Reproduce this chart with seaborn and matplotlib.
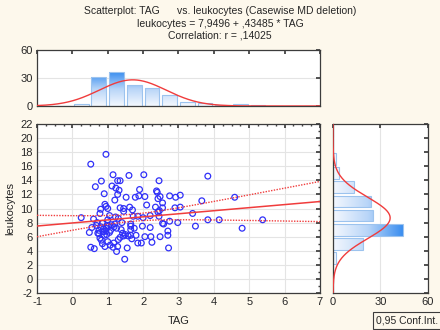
import numpy as np
import pandas as pd
import matplotlib
matplotlib.use("Agg")
import matplotlib.pyplot as plt
import seaborn as sns
from matplotlib.colors import LinearSegmentedColormap, Normalize
from matplotlib.ticker import AutoMinorLocator

# values (TAG, leukocytes)
tag = [0.52, 0.95, 0.25, 0.48, 0.52, 0.62, 0.60, 0.65, 0.70, 0.72,
       0.75, 0.78, 0.80, 0.82, 0.78, 0.82, 0.85, 0.85, 0.88, 0.90,
       0.92, 0.95, 0.95, 0.95, 0.92, 0.97, 1.00, 1.00, 1.02, 1.00,
       1.05, 1.05, 1.07, 1.10, 1.12, 1.15, 1.15, 1.17, 1.20, 1.20,
       1.22, 1.23, 1.25, 1.25, 1.28, 1.28, 1.30, 1.30, 1.32, 1.35,
       1.35, 1.35, 1.28, 1.40, 1.42, 1.45, 1.45, 1.45, 1.48, 1.50,
       1.52, 1.55, 1.58, 1.60, 1.62, 1.65, 1.65, 1.65, 1.65, 1.68,
       1.70, 1.72, 1.78, 1.80, 1.85, 1.85, 1.88, 1.90, 1.95, 1.98,
       2.00, 2.02, 2.05, 2.05, 2.10, 2.20, 2.20, 2.22, 2.25, 2.35,
       2.38, 2.40, 2.42, 2.42, 2.45, 2.45, 2.48, 2.48, 2.46, 2.55,
       2.55, 2.55, 2.58, 2.70, 2.70, 2.72, 2.75, 2.75, 2.90, 2.92,
       2.98, 3.05, 3.05, 3.40, 3.48, 3.66, 3.83, 3.83, 4.15, 4.59,
       4.80, 5.38,
       0.55, 0.68, 0.75, 0.80, 0.88, 0.90, 0.98, 1.08, 1.18, 1.38, 1.75]
leuk = [16.3, 17.7, 8.7, 6.6, 4.5, 4.3, 8.5, 13.1, 8.0, 6.5,
        6.4, 9.3, 9.9, 13.9, 5.8, 5.5, 5.0, 7.9, 6.7, 12.1,
        10.6, 10.3, 7.2, 6.8, 4.6, 6.3, 10.0, 8.4, 7.5, 5.3,
        9.0, 6.6, 4.8, 7.7, 13.2, 14.8, 4.5, 5.1, 11.2, 7.8,
        8.8, 12.9, 3.9, 7.2, 13.95, 12.0, 8.6, 5.6, 12.6, 13.95,
        10.1, 5.9, 4.6, 8.0, 6.5, 9.6, 10.0, 6.1, 2.8, 6.3,
        11.6, 4.4, 6.1, 14.7, 10.2, 7.8, 7.5, 7.0, 6.2, 5.7,
        9.8, 8.9, 11.6, 6.2, 5.1, 8.9, 11.8, 12.7, 5.1, 7.5,
        8.7, 14.8, 11.7, 6.0, 10.5, 7.3, 9.0, 6.0, 5.2, 10.2,
        12.5, 12.3, 9.5, 11.4, 8.9, 13.95, 6.0, 11.7, 9.7, 10.8,
        10.1, 7.9, 7.8, 6.8, 6.2, 4.4, 11.8, 8.2, 10.1, 11.6,
        8.0, 11.9, 10.2, 9.3, 7.5, 11.1, 14.6, 8.4, 8.4, 11.6,
        7.2, 8.4,
        7.3, 7.6, 6.9, 7.4, 7.1, 6.2, 7.6, 6.9, 7.4, 7.0, 7.2]

intercept = 7.9496
slope = 0.43485
r_value = 0.14025

df = pd.DataFrame({"TAG": tag, "leukocytes": leuk})

sns.set_theme(style="white")
plt.rcParams["font.family"] = ["Liberation Sans", "DejaVu Sans"]
plt.rcParams["axes.unicode_minus"] = False

bg = "#fdf8ec"
blue = "#3030f8"
red = "#f03c3c"
spine_col = "#3c3c3c"
grid_col = "#e4e4e4"

fig = plt.figure(figsize=(4.4, 3.3), dpi=100, facecolor=bg)
ax = fig.add_axes([0.0841, 0.1121, 0.643, 0.512])
ax_top = fig.add_axes([0.0841, 0.6788, 0.643, 0.1697])
ax_right = fig.add_axes([0.7568, 0.1121, 0.2159, 0.512])

# ---- main scatter ----
sns.scatterplot(data=df, x="TAG", y="leukocytes", ax=ax, marker="o", s=17,
                facecolor="none", edgecolor=blue, linewidth=0.9, zorder=3)
pts = ax.collections[-1]
pts.set_facecolor("none")
pts.set_edgecolor(blue)

x_arr = np.array(tag)
y_arr = np.array(leuk)
n = len(x_arr)
x_line = np.linspace(-1, 7, 200)
y_line = intercept + slope * x_line
resid = y_arr - (intercept + slope * x_arr)
s_err = np.sqrt(np.sum(resid ** 2) / (n - 2))
sxx = np.sum((x_arr - x_arr.mean()) ** 2)
half = 1.978 * s_err * np.sqrt(1 / n + (x_line - x_arr.mean()) ** 2 / sxx)

ax.plot(x_line, y_line, color=red, lw=1.1, zorder=4)
ax.plot(x_line, y_line + half, color=red, lw=1.0, ls=(0, (1.0, 1.0)), zorder=4)
ax.plot(x_line, y_line - half, color=red, lw=1.0, ls=(0, (1.0, 1.0)), zorder=4)

ax.set_xlim(-1, 7)
ax.set_ylim(-2, 22)
ax.set_xticks(range(-1, 8))
ax.set_yticks(range(-2, 23, 2))
ax.xaxis.set_minor_locator(AutoMinorLocator(4))
ax.yaxis.set_minor_locator(AutoMinorLocator(2))
ax.grid(True, which="major", color=grid_col, lw=0.8)
ax.set_axisbelow(True)
ax.set_xlabel("TAG", fontsize=8, labelpad=6)
ax.set_ylabel("leukocytes", fontsize=8, labelpad=4)

cmap = LinearSegmentedColormap.from_list("bars", ["#f4f8fe", "#b8d5f8", "#3a8ef0"])


def gradient_bars(axh, horizontal, vmax):
    xl, yl = axh.get_xlim(), axh.get_ylim()
    grad = np.linspace(0, 60, 256)
    for p in list(axh.patches):
        x0, y0 = p.get_x(), p.get_y()
        w, h = p.get_width(), p.get_height()
        if (h if not horizontal else w) <= 0:
            continue
        if horizontal:
            img = grad.reshape(1, -1)
            ext = [0, 60, y0, y0 + h]
        else:
            img = grad.reshape(-1, 1)
            ext = [x0, x0 + w, 0, 60]
        im = axh.imshow(img, extent=ext, origin="lower", aspect="auto", cmap=cmap,
                        norm=Normalize(0, vmax), zorder=1.5)
        im.set_clip_path(p)
        p.set_facecolor("none")
        p.set_zorder(2)
    axh.set_xlim(xl)
    axh.set_ylim(yl)
    axh.set_aspect("auto")


# ---- top histogram ----
sns.histplot(x=tag, bins=np.arange(-1, 7.5, 0.5), ax=ax_top, shrink=0.84,
             color="#cfe2fa", edgecolor="#9cc3ee", linewidth=0.8)
ax_top.set_xlim(-1, 7)
ax_top.set_ylim(0, 60)
gradient_bars(ax_top, False, 36)
xs = np.linspace(-1, 7, 300)
mu_x, sd_x = x_arr.mean(), x_arr.std(ddof=1)
ax_top.plot(xs, n * 0.5 * np.exp(-0.5 * ((xs - mu_x) / sd_x) ** 2) / (sd_x * np.sqrt(2 * np.pi)),
            color=red, lw=1.0, zorder=3)
ax_top.set_xticks(range(-1, 8))
ax_top.set_xticklabels([])
ax_top.set_yticks([0, 30, 60])
ax_top.grid(True, axis="y", color=grid_col, lw=0.8)
ax_top.set_axisbelow(True)
ax_top.set_xlabel("")
ax_top.set_ylabel("")

# ---- right histogram ----
sns.histplot(y=leuk, bins=np.arange(-2, 24, 2), ax=ax_right, shrink=0.84,
             color="#cfe2fa", edgecolor="#9cc3ee", linewidth=0.8)
ax_right.set_xlim(0, 60)
ax_right.set_ylim(-2, 22)
gradient_bars(ax_right, True, 44)
ys = np.linspace(-2, 22, 300)
mu_y, sd_y = y_arr.mean(), y_arr.std(ddof=1)
ax_right.plot(n * 2 * np.exp(-0.5 * ((ys - mu_y) / sd_y) ** 2) / (sd_y * np.sqrt(2 * np.pi)), ys,
              color=red, lw=1.0, zorder=3)
ax_right.set_yticks(range(-2, 23, 2))
ax_right.set_yticklabels([])
ax_right.set_xticks([0, 30, 60])
ax_right.grid(True, axis="x", color=grid_col, lw=0.8)
ax_right.set_axisbelow(True)
ax_right.set_xlabel("")
ax_right.set_ylabel("")

for a in (ax, ax_top, ax_right):
    a.set_facecolor("white")
    for sp in a.spines.values():
        sp.set_color(spine_col)
        sp.set_linewidth(0.9)
    a.tick_params(which="both", direction="in", top=True, right=True,
                  labelsize=8, color=spine_col, pad=3)
    a.tick_params(which="major", length=3)
    a.tick_params(which="minor", length=1.5)

# ---- titles ----
fig.text(0.5, 0.967, "Scatterplot: TAG      vs. leukocytes (Casewise MD deletion)",
         ha="center", va="center", fontsize=7.5)
fig.text(0.5, 0.927, "leukocytes = 7,9496 + ,43485 * TAG",
         ha="center", va="center", fontsize=7.5)
fig.text(0.5, 0.892, "Correlation: r = ,14025",
         ha="center", va="center", fontsize=7.5)
fig.text(0.926, 0.029, "0,95 Conf.Int.", ha="center", va="center", fontsize=7.5,
         bbox=dict(boxstyle="square,pad=0.3", facecolor=bg, edgecolor=spine_col, lw=0.8))

fig.savefig("out.png", dpi=100, facecolor=bg)
